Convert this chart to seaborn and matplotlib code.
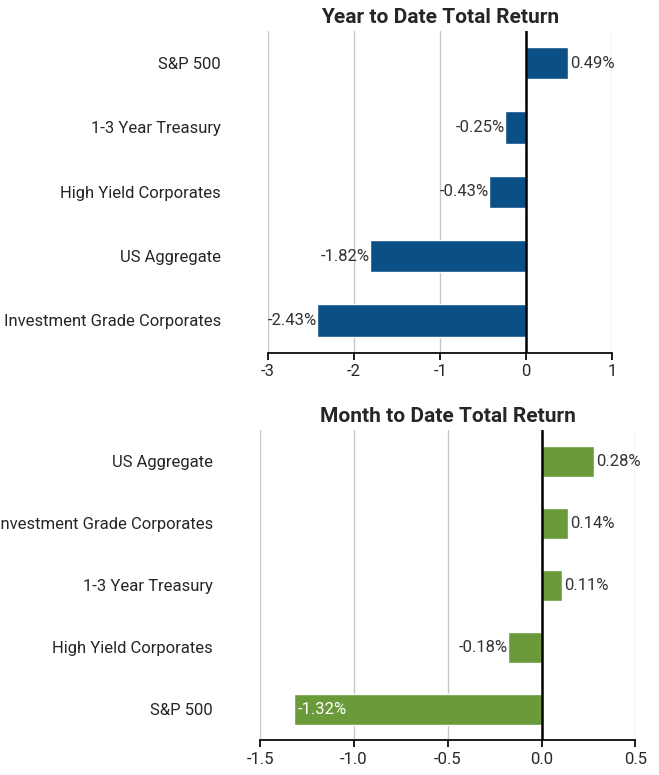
import matplotlib
matplotlib.use("Agg")
import matplotlib.pyplot as plt
import seaborn as sns
import pandas as pd

ytd_cats = ["S&P 500", "1-3 Year Treasury", "High Yield Corporates", "US Aggregate", "Investment Grade Corporates"]
ytd_vals = [0.49, -0.25, -0.43, -1.82, -2.43]
mtd_cats = ["US Aggregate", "Investment Grade Corporates", "1-3 Year Treasury", "High Yield Corporates", "S&P 500"]
mtd_vals = [0.28, 0.14, 0.11, -0.18, -1.32]

sns.set_theme(style="white")
plt.rcParams['font.family'] = ['Roboto', 'DejaVu Sans']

fig = plt.figure(figsize=(6.59, 7.75), dpi=100)
ax1 = fig.add_axes([0.407, 0.545, 0.522, 0.415])
ax2 = fig.add_axes([0.395, 0.045, 0.569, 0.400])

def draw(ax, cats, vals, color, title, xlim, ticks, ticklabels, inside=None):
    df = pd.DataFrame({"cat": cats, "val": vals})
    sns.barplot(data=df, x="val", y="cat", orient="h", color=color, width=0.5, ax=ax, saturation=1)
    ax.set_xlim(*xlim)
    ax.set_xticks(ticks)
    ax.set_xticklabels(ticklabels, fontsize=12)
    ax.set_xlabel("")
    ax.set_ylabel("")
    ax.tick_params(axis="y", length=0, labelsize=12, pad=34)
    ax.tick_params(axis="x", length=5, direction="out", bottom=True, color="black")
    for t in ticks:
        ax.axvline(t, color="#c8c8c8", lw=1, zorder=0)
    ax.axvline(0, color="black", lw=1.8, zorder=3)
    for s in ["top", "right", "left"]:
        ax.spines[s].set_visible(False)
    ax.spines["bottom"].set_color("black")
    ax.set_title(title, fontsize=15, fontweight="bold", pad=6)
    for i, v in enumerate(vals):
        lab = f"{v:.2f}%"
        if inside is not None and i == inside:
            ax.text(v + 0.02, i, lab, va="center", ha="left", color="white", fontsize=12, zorder=4)
        elif v >= 0:
            ax.text(v + 0.02 * (xlim[1] - xlim[0]) / 4, i, lab, va="center", ha="left", fontsize=12, color="#333333")
        else:
            ax.text(v, i, lab, va="center", ha="right", fontsize=12, color="#333333", zorder=4)

draw(ax1, ytd_cats, ytd_vals, "#0B4F87", "Year to Date Total Return", (-3, 1),
     [-3, -2, -1, 0, 1], ["-3", "-2", "-1", "0", "1"])
draw(ax2, mtd_cats, mtd_vals, "#6B9A3A", "Month to Date Total Return", (-1.5, 0.5),
     [-1.5, -1.0, -0.5, 0.0, 0.5], ["-1.5", "-1.0", "-0.5", "0.0", "0.5"], inside=4)

fig.savefig("out.png", dpi=100)
